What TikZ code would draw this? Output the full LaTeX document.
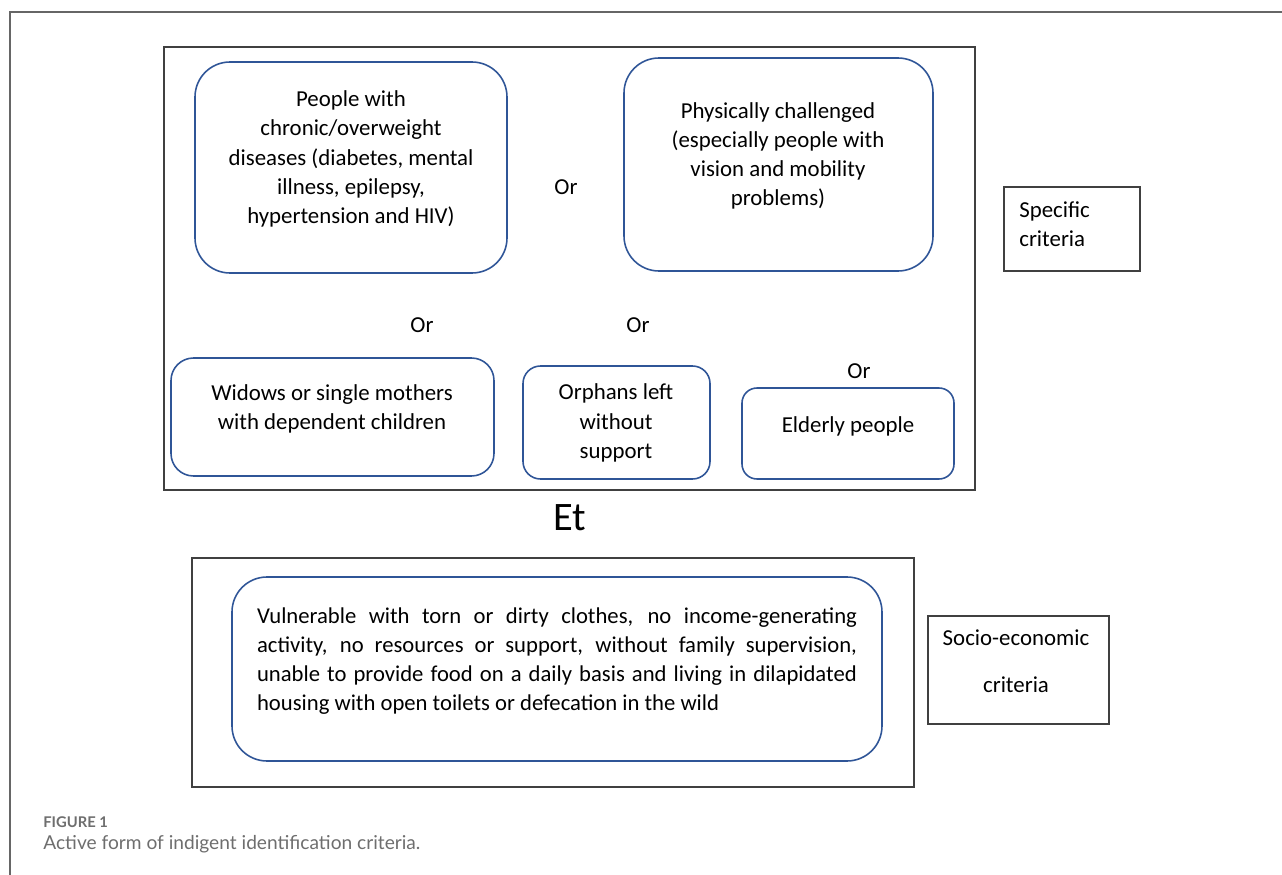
\documentclass[tikz,border=0pt]{standalone}
\usepackage{fontspec}
\setmainfont{Carlito}
\newfontfamily\capfont{Lato}
\usetikzlibrary{calc}

\definecolor{boxblue}{HTML}{2F5597}
\definecolor{framegray}{HTML}{404040}
\definecolor{capgray}{HTML}{6E6E6E}

\tikzset{
  crit/.style={draw=boxblue, line width=0.9pt},
  frame/.style={draw=framegray, line width=0.6pt},
  txt/.style={align=center, inner sep=0pt, font=\fontsize{13}{16.6}\selectfont},
  ortxt/.style={inner sep=0pt, font=\fontsize{13}{16.6}\selectfont}
}

\begin{document}
\begin{tikzpicture}[x=0.02cm,y=-0.02cm]
      \useasboundingbox (0,0) rectangle (1282,875);
      % page frame
      \draw[draw=gray!80!black, line width=0.6pt] (1282,12) -- (10,12) -- (10,875);
      % specific criteria
      \draw[frame] (164,47) rectangle (975,490);
      \draw[crit, rounded corners=0.7cm] (195,62) rectangle (507,273);
      \node[txt] (chronic) at (351,159) {People with\\chronic/overweight\\diseases (diabetes, mental\\illness, epilepsy,\\hypertension and HIV)};
      \draw[crit, rounded corners=0.7cm] (624,58) rectangle (933,271);
      \node[txt] (physical) at (778,156) {Physically challenged\\(especially people with\\vision and mobility\\problems)};
      \draw[crit, rounded corners=0.45cm] (171,358) rectangle (494,476);
      \node[txt] (widows) at (332,409) {Widows or single mothers\\with dependent children};
      \draw[crit, rounded corners=0.35cm] (523,366) rectangle (710,479);
      \node[txt] (orphans) at (616,423) {Orphans left\\without\\support};
      \draw[crit, rounded corners=0.3cm] (742,388) rectangle (954,479);
      \node[txt] (elderly) at (848,426) {Elderly people};
      \foreach \name/\x/\y in {ora/566/187, orb/422/325, orc/638/325, ord/859/371} {
          \node[ortxt] (\name) at (\x,\y) {Or};
      }
      \draw[frame] (1004,187) rectangle (1140,271);
      \node[txt, align=left, anchor=west] (specific) at (1019,224) {Specific\\criteria};
      \node[inner sep=0pt, font=\fontsize{23}{28}\selectfont] (et) at (570,518) {Et};
      % socio-economic criteria
      \draw[frame] (192,558) rectangle (914,787);
      \draw[crit, rounded corners=0.7cm] (232,577) rectangle (882,761);
      \node[inner sep=0pt, text width=12cm, align=justify, font=\fontsize{12.9}{16.6}\selectfont] (vulnerable) at (557,661)
          {Vulnerable with torn or dirty clothes, no income-generating\linebreak activity, no resources or support, without family supervision,\linebreak unable to provide food on a daily basis and living in dilapidated\linebreak housing with open toilets or defecation in the wild};
      \draw[frame] (928,616) rectangle (1109,724);
      \node[txt] (socio) at (1016,661) {Socio-economic\\[10pt]criteria};
      % caption
      \node[anchor=west, inner sep=0pt, text=capgray, font=\capfont\bfseries\fontsize{8.4}{10}\selectfont] (fig) at (43,822) {FIGURE 1};
      \node[anchor=west, inner sep=0pt, text=capgray, font=\capfont\fontsize{10.9}{13}\selectfont] (caption) at (43,844) {Active form of indigent identification criteria.};
  \end{tikzpicture}
\end{document}
